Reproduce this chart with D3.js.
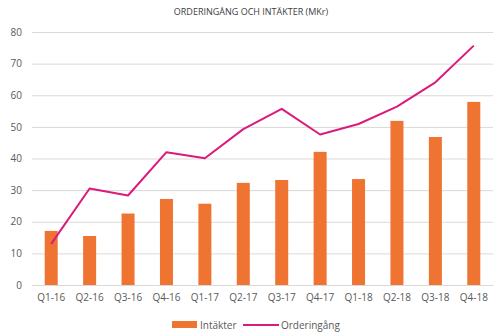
<!DOCTYPE html>
<html>
<head>
<meta charset="utf-8">
<script src="https://cdn.jsdelivr.net/npm/d3@7"></script>
<style>
  body { margin: 0; background: #fff; }
  text { font-family: "Open Sans", "Liberation Sans", sans-serif; fill: #595959; }
</style>
</head>
<body>
<svg id="chart" width="500" height="335"></svg>
<script>
const quarters = ['Q1-16','Q2-16','Q3-16','Q4-16','Q1-17','Q2-17','Q3-17','Q4-17','Q1-18','Q2-18','Q3-18','Q4-18'];
const intakter = [17.1, 15.5, 22.6, 27.2, 25.7, 32.3, 33.2, 42.1, 33.5, 51.9, 46.8, 57.9];
const orderingang = [13.0, 30.5, 28.3, 42.0, 40.1, 49.3, 55.7, 47.6, 50.9, 56.4, 64.1, 75.7];
const yTicks = [0, 10, 20, 30, 40, 50, 60, 70, 80];

const barColor = '#ef7331',
  lineColor = '#dc1a7c';

let svg = d3.select('#chart');
let m = {left: 32, right: 7, top: 32, bottom: 50};
let W = 500, H = 335;

let x = d3.scaleBand()
  .domain(quarters)
  .range([m.left, W - m.right])
  .paddingInner(0.66)
  .paddingOuter(0.33);

let y = d3.scaleLinear()
  .domain([0, 80])
  .range([H - m.bottom, m.top]);

svg.append('text')
  .attr('x', 251)
  .attr('y', 15)
  .attr('text-anchor', 'middle')
  .style('font-size', '9px')
  .style('fill', '#404040')
  .text('ORDERINGÅNG OCH INTÄKTER (MKr)');

// gridlines + y labels
let yAxis = svg.append('g')
  .attr('transform', `translate(${m.left},0)`)
  .call(d3.axisLeft(y).tickValues(yTicks).tickSize(-(W - m.left - m.right)).tickPadding(10));
yAxis.select('.domain').remove();
yAxis.selectAll('line').attr('stroke', '#d9d9d9');
yAxis.selectAll('text').style('font-size', '10px').style('font-family', null).attr('fill', null);

let xAxis = svg.append('g')
  .attr('transform', `translate(0,${y(0)})`)
  .call(d3.axisBottom(x).tickSize(0).tickPadding(9));
xAxis.select('.domain').attr('stroke', '#d9d9d9');
xAxis.selectAll('text').style('font-size', '10px').style('font-family', null).attr('fill', null);

let bw = 13;
svg.append('g').selectAll('rect')
  .data(quarters)
  .join('rect')
  .attr('x', d => x(d) + x.bandwidth() / 2 - bw / 2)
  .attr('width', bw)
  .attr('y', (d, i) => y(intakter[i]))
  .attr('height', (d, i) => y(0) - y(intakter[i]))
  .attr('fill', barColor);

let line = d3.line()
  .x((d, i) => x(quarters[i]) + x.bandwidth() / 2)
  .y(d => y(d));

svg.append('path')
  .datum(orderingang)
  .attr('d', line)
  .attr('fill', 'none')
  .attr('stroke', lineColor)
  .attr('stroke-width', 2)
  .attr('stroke-linejoin', 'round');

// legend
let lg = svg.append('g').attr('transform', 'translate(0,325)');
lg.append('rect').attr('x', 172).attr('y', -4).attr('width', 25).attr('height', 7).attr('fill', barColor);
lg.append('text').attr('x', 200).attr('y', 4).style('font-size', '10px').text('Intäkter');
lg.append('line').attr('x1', 243).attr('x2', 279).attr('y1', 0).attr('y2', 0)
  .attr('stroke', lineColor).attr('stroke-width', 2);
lg.append('text').attr('x', 281).attr('y', 4).style('font-size', '10px').text('Orderingång');
</script>
</body>
</html>
